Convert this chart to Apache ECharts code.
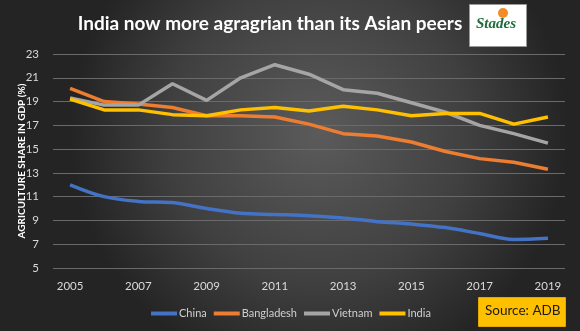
<!DOCTYPE html>
<html><head><meta charset="utf-8">
<script src="https://cdn.jsdelivr.net/npm/echarts@6/dist/echarts.min.js"></script>
<style>html,body{margin:0;padding:0;background:#2a2a2a}#c{width:580px;height:331px}</style>
</head><body><div id="c"></div>
<script>
const years = ['2005','2006','2007','2008','2009','2010','2011','2012','2013','2014','2015','2016','2017','2018','2019'];
const china = [12.0, 11.0, 10.6, 10.5, 10.0, 9.6, 9.5, 9.4, 9.2, 8.9, 8.7, 8.4, 7.9, 7.4, 7.5];
const bangladesh = [20.1, 19.0, 18.8, 18.5, 17.8, 17.8, 17.7, 17.1, 16.3, 16.1, 15.6, 14.8, 14.2, 13.9, 13.3];
const vietnam = [19.3, 18.7, 18.7, 20.5, 19.1, 21.0, 22.1, 21.3, 20.0, 19.7, 18.9, 18.1, 17.0, 16.3, 15.5];
const india = [19.2, 18.3, 18.3, 17.9, 17.8, 18.3, 18.5, 18.2, 18.6, 18.3, 17.8, 18.0, 18.0, 17.1, 17.7];
const yTicks = {min: 5, max: 23, step: 2};

const chart = echarts.init(document.getElementById('c'));
const font = 'Lato, "Open Sans", sans-serif';
function s(name, data, color, smooth) {
  return {name, type: 'line', data, smooth: smooth ? 0.35 : false, symbol: 'none',
    lineStyle: {color, width: 3.5}, itemStyle: {color}};
}
chart.setOption({
  backgroundColor: {type: 'radial', x: 0.55, y: 0.4, r: 0.75,
    colorStops: [{offset: 0, color: '#5b5b5b'}, {offset: 0.6, color: '#404040'}, {offset: 1, color: '#242424'}]},
  textStyle: {fontFamily: font},
  title: {text: 'India now more agragrian than its Asian peers', left: 265, textAlign: 'center', top: 9,
    textStyle: {color: '#ffffff', fontSize: 19, fontWeight: 'bold', fontFamily: font}},
  graphic: [
    {type: 'rect', left: 469, top: 4, shape: {width: 57, height: 42}, style: {fill: '#ffffff', stroke: '#999', lineWidth: 1}},
    {type: 'text', left: 476, top: 17, style: {text: 'Stades', fill: '#1f6b3a', font: 'italic bold 15px serif'}},
    {type: 'circle', left: 498, top: 8, shape: {r: 5}, style: {fill: '#f28c28'}},
    {type: 'rect', left: 478, top: 297, shape: {width: 87, height: 29}, style: {fill: '#ffc000', stroke: '#e0a800'}},
    {type: 'text', left: 485, top: 304, style: {text: 'Source: ADB', fill: '#1a1a1a', font: '13.5px Lato, sans-serif'}}
  ],
  legend: {left: 146, top: 303, itemWidth: 26, itemHeight: 4, itemGap: 7, icon: 'rect',
    textStyle: {color: '#d0d0d0', fontSize: 11, padding: [0, 0, 0, -3]},
    data: ['China', 'Bangladesh', 'Vietnam', 'India']},
  grid: {left: 53, right: 15, top: 54, bottom: 63},
  xAxis: {type: 'category', data: years, boundaryGap: true,
    axisLine: {show: false}, axisTick: {show: false},
    axisLabel: {color: '#d9d9d9', fontSize: 11.5, interval: 1, margin: 12}},
  yAxis: {type: 'value', min: yTicks.min, max: yTicks.max, interval: yTicks.step,
    name: 'AGRICULTURE SHARE IN GDP (%)', nameLocation: 'middle', nameGap: 26, nameRotate: 90,
    nameMoveOverlap: false,
    nameTextStyle: {color: '#ffffff', fontWeight: 'bold', fontSize: 10},
    axisLine: {show: false}, axisTick: {show: false},
    axisLabel: {color: '#d9d9d9', fontSize: 11.5, margin: 14},
    splitLine: {lineStyle: {color: '#6a6a6a', width: 1}}},
  series: [
    s('China', china, '#4472c4', true),
    s('Bangladesh', bangladesh, '#ed7d31'),
    s('Vietnam', vietnam, '#a5a5a5'),
    s('India', india, '#ffc000')
  ]
});
</script></body></html>
